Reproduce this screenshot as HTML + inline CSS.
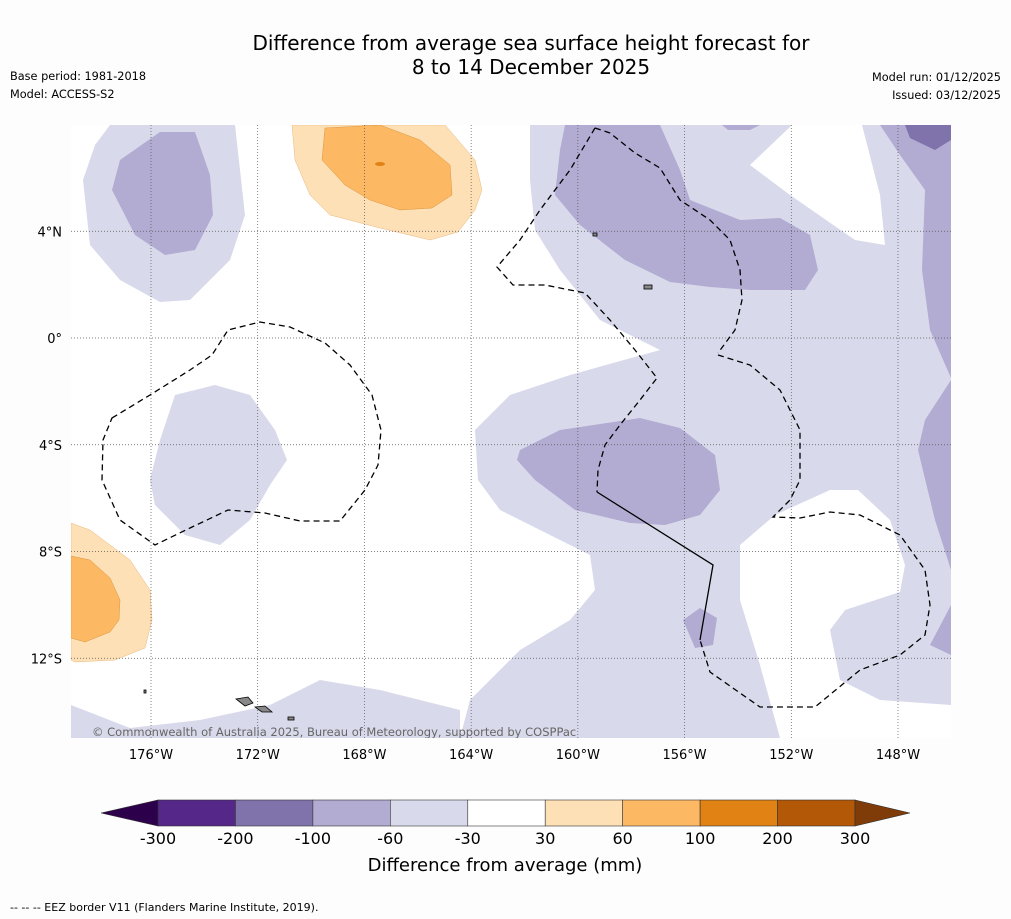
<!DOCTYPE html>
<html><head><meta charset="utf-8">
<style>
body{margin:0;background:#fdfdfd;font-family:"DejaVu Sans",sans-serif;}
#wrap{position:relative;width:1011px;height:919px;overflow:hidden;}
</style></head>
<body><div id="wrap">
<svg id="svg" width="1011" height="919" xmlns="http://www.w3.org/2000/svg" font-family="DejaVu Sans, sans-serif">
<text x="531" y="50" font-size="20" text-anchor="middle">Difference from average sea surface height forecast for</text>
<text x="531" y="74" font-size="20" text-anchor="middle">8 to 14 December 2025</text>
<text x="10" y="80" font-size="11.3">Base period: 1981-2018</text>
<text x="10" y="98" font-size="11.3">Model: ACCESS-S2</text>
<text x="1001" y="81" font-size="11.3" text-anchor="end">Model run: 01/12/2025</text>
<text x="1001" y="99" font-size="11.3" text-anchor="end">Issued: 03/12/2025</text>
<defs><clipPath id="mc"><rect x="71" y="125" width="880" height="613"/></clipPath></defs>
<g id="map" clip-path="url(#mc)">
<rect x="71" y="125" width="880" height="613" fill="#fff"/>
<g fill="#d8daeb">
<polygon points="110,125 235,125 245,215 230,260 190,300 160,302 120,280 90,245 83,180 95,145"/>
<polygon points="530,125 951,125 951,738 460,738 470,700 520,650 570,620 595,590 590,555 560,540 500,510 478,480 475,430 510,395 570,375 660,350 600,320 560,270 535,230 530,180"/>
<polygon points="71,705 130,728 200,720 270,705 320,680 380,690 460,710 460,738 71,738"/>
<polygon points="175,395 215,385 250,395 275,430 287,460 270,485 250,520 220,545 185,535 155,505 150,480 160,440"/>
</g>
<g fill="#fff">
<polygon points="792,125 750,165 790,195 855,240 885,245 880,195 862,125"/>
<polygon points="740,545 775,515 830,490 858,490 890,520 905,565 900,592 845,610 830,630 840,680 880,700 951,705 951,738 780,738 760,665 740,600"/>
</g>
<g fill="#b2abd2">
<polygon points="120,160 160,132 195,132 210,175 213,215 195,250 165,255 135,235 112,190"/>
<polygon points="565,125 660,125 680,170 690,200 740,220 780,218 810,235 818,270 805,290 750,290 710,287 670,282 625,260 580,225 555,195 560,150"/>
<polygon points="722,125 760,125 750,130 728,130"/>
<polygon points="880,125 951,125 951,378 930,330 922,270 925,190 900,155"/>
<polygon points="951,380 925,420 918,450 935,520 951,570"/>
<polygon points="951,605 930,645 951,655"/>
<polygon points="520,450 560,430 640,418 680,428 715,455 720,490 700,515 665,525 630,523 575,510 535,480 517,460"/>
<polygon points="683,620 700,608 717,618 713,645 695,648"/>
</g>
<polygon fill="#8073ac" points="905,125 951,125 951,140 935,150 910,138"/>
<g>
<polygon fill="#fee0b6" stroke="#e8b880" stroke-width="0.5" points="292,125 445,125 475,160 482,190 475,210 458,232 430,240 380,228 330,215 310,195 295,160"/>
<polygon fill="#fdb863" stroke="#d89540" stroke-width="0.5" points="325,128 380,125 420,140 450,165 452,195 432,208 400,210 370,200 345,185 322,160"/>
<ellipse cx="380" cy="164" rx="5" ry="2" fill="#e08214"/>
<polygon fill="#fee0b6" stroke="#e8b880" stroke-width="0.5" points="71,523 90,530 130,560 150,590 152,620 145,648 115,660 75,662 71,660"/>
<polygon fill="#fdb863" stroke="#d89540" stroke-width="0.5" points="71,556 90,560 110,578 120,600 119,620 110,632 85,642 71,638"/>
</g>
<g id="grid" stroke="#555" stroke-width="0.7" stroke-dasharray="1,2"></g>
<g fill="none" stroke="#000" stroke-width="1.3" stroke-dasharray="6,4">
<polyline points="595,128 610,133 635,153 660,168 680,200 710,220 730,240 740,270 742,300 735,330 718,353"/>
<polyline points="718,355 750,365 780,390 800,430 800,480 790,500 773,517 800,518 830,512 860,515 900,535 925,570 930,605 925,635 900,655 860,670 815,707 760,707 710,672 700,640"/>
<polyline points="595,128 570,170 540,210 520,240 497,267 513,285 545,285 585,293 610,320 635,350 657,378 640,400 620,425 605,445 598,470 597,492"/>
<polygon points="112,418 150,395 190,370 212,355 228,330 260,322 290,327 325,343 350,365 372,395 381,430 378,465 365,490 340,521 300,521 265,513 228,510 190,528 155,545 120,520 102,480 103,440"/>
</g>
<polyline fill="none" stroke="#000" stroke-width="1.3" points="597,492 713,565 700,640"/>
<g fill="#888" stroke="#000" stroke-width="0.8">
<polygon points="236,699 248,697 253,703 245,706"/>
<polygon points="255,707 265,706 272,712 262,712"/>
<rect x="644" y="285" width="8" height="4"/><rect x="593" y="233" width="4" height="3"/>
<rect x="288" y="717" width="6" height="3"/><rect x="144" y="690" width="2" height="3"/>
</g>
<text x="92" y="736" font-size="11.5" fill="#666">© Commonwealth of Australia 2025, Bureau of Meteorology, supported by COSPPac</text>
</g>
<g id="ticks" font-size="13"></g>
<g id="cbar"></g>
<text x="505" y="871" font-size="18" text-anchor="middle">Difference from average (mm)</text>
<text x="10" y="911" font-size="11">--  --  -- EEZ border V11 (Flanders Marine Institute, 2019).</text>
</svg></div>
<script>
const lonTicks=[-176,-172,-168,-164,-160,-156,-152,-148];
const latTicks=[4,0,-4,-8,-12];
const cbLevels=[-300,-200,-100,-60,-30,30,60,100,200,300];
const cbColors=["#542788","#8073ac","#b2abd2","#d8daeb","#ffffff","#fee0b6","#fdb863","#e08214","#b35806"];
const cbExtend=["#2d004b","#7f3b08"];
const NS="http://www.w3.org/2000/svg";
const xLon=l=>151+(l+176)*(747/28);
const yLat=l=>338-l*(106.75/4);
const g=document.getElementById('grid'),t=document.getElementById('ticks'),cb=document.getElementById('cbar');
function mk(tag,a,p){const e=document.createElementNS(NS,tag);for(const k in a)e.setAttribute(k,a[k]);p.appendChild(e);return e;}
lonTicks.forEach(l=>{const x=xLon(l);
const ln=mk('line',{x1:x,x2:x,y1:125,y2:738},g);


const tx=mk('text',{x:x,y:759,'text-anchor':'middle'},t);tx.textContent=Math.abs(l)+'°W';

});
latTicks.forEach(l=>{const y=yLat(l);
const ln=mk('line',{x1:71,x2:951,y1:y,y2:y},g);


const tx=mk('text',{x:62,y:y+5,'text-anchor':'end'},t);tx.textContent=l===0?'0°':Math.abs(l)+'°'+(l>0?'N':'S');

});
const x0=158,x1=855,n=cbColors.length,w=(x1-x0)/n,yT=800,h=26;
cbColors.forEach((c,i)=>{const r=mk('rect',{x:x0+i*w,y:yT,width:w,height:h,fill:c,stroke:'#333','stroke-width':0.6},cb);

});
const a1=mk('polygon',{points:`${x0},${yT} ${x0},${yT+h} 101,${yT+h/2}`,fill:cbExtend[0],stroke:'#333','stroke-width':0.6},cb);


const a2=mk('polygon',{points:`${x1},${yT} ${x1},${yT+h} 910,${yT+h/2}`,fill:cbExtend[1],stroke:'#333','stroke-width':0.6},cb);


cbLevels.forEach((v,i)=>{const tx=mk('text',{x:x0+i*w,y:844,'text-anchor':'middle','font-size':16},cb);tx.textContent=v;

});
</script>
</body></html>
